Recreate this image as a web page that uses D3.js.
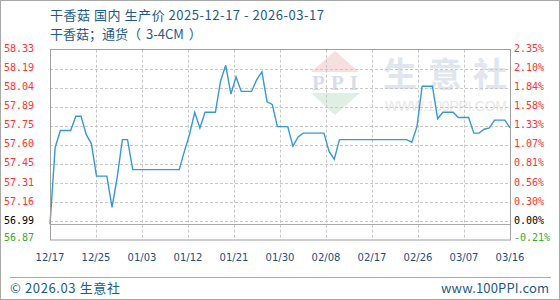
<!DOCTYPE html>
<html>
<head>
<meta charset="utf-8">
<script src="https://cdn.jsdelivr.net/npm/d3@7"></script>
<style>
  body { margin: 0; background: #fff; }
  svg { display: block; }
</style>
</head>
<body>
<svg width="560" height="300"></svg>
<script>
// daily price 2025-12-17 .. 2026-03-16
let prices = [
  56.99, 57.58, 57.71, 57.71, 57.71, 57.82, 57.82, 57.68, 57.61, 57.36,
  57.36, 57.36, 57.12, 57.35, 57.64, 57.64, 57.41, 57.41, 57.41, 57.41,
  57.41, 57.41, 57.41, 57.41, 57.41, 57.41, 57.55, 57.68, 57.85, 57.73,
  57.85, 57.85, 57.85, 58.09, 58.21, 57.99, 58.12, 58.01, 58.01, 58.01,
  58.10, 58.16, 57.93, 57.91, 57.74, 57.74, 57.74, 57.59, 57.66, 57.69,
  57.69, 57.69, 57.69, 57.69, 57.55, 57.49, 57.64, 57.64, 57.64, 57.64,
  57.64, 57.64, 57.64, 57.64, 57.64, 57.64, 57.64, 57.64, 57.64, 57.64,
  57.62, 57.74, 58.05, 58.05, 58.05, 57.80, 57.85, 57.85, 57.85, 57.81,
  57.81, 57.81, 57.69, 57.69, 57.72, 57.73, 57.79, 57.79, 57.79, 57.73
];
let xLabels = ["12/17", "12/25", "01/03", "01/12", "01/21", "01/30", "02/08", "02/17", "02/26", "03/07", "03/16"];
let priceLabels = ["56.87", "56.99", "57.16", "57.31", "57.45", "57.60", "57.75", "57.89", "58.04", "58.19", "58.33"];
let pctLabels = ["-0.21%", "0.00%", "0.30%", "0.56%", "0.81%", "1.07%", "1.33%", "1.58%", "1.84%", "2.10%", "2.35%"];
let basePrice = 56.99;
let title1 = "干香菇 国内 生产价 2025-12-17 - 2026-03-17";
let title2 = ["干香菇；通货（", "3-4CM", "）"];

let svg = d3.select("svg");
let plotL = 50, plotR = 510, plotT = 49.7, plotB = 240;
let textBlue = "#1d5a88";
let cjk = "'Noto Sans CJK SC', 'Noto Sans', sans-serif";

let x = d3.scaleLinear().domain([0, prices.length - 1]).range([plotL, plotR]);
let xl = d3.scalePoint().domain(xLabels).range([plotL, plotR]);
let y = d3.scaleLinear().domain([+priceLabels[0], +priceLabels[priceLabels.length - 1]]).range([plotB, plotT]);
let lo = y.domain()[0], hi = y.domain()[1];
let tickVals = priceLabels.map((d, i) => lo + i * (hi - lo) / (priceLabels.length - 1));

// outer frame
svg.append("rect").attr("x", 0.5).attr("y", 0.5).attr("width", 559).attr("height", 299)
  .attr("fill", "#fff").attr("stroke", "#a8a8a8");

// watermark
let wm = svg.append("g");
wm.append("polygon").attr("points", "335,51 311,72 359,72").attr("fill", "#f8dfdf");
wm.append("text").attr("x", 335).attr("y", 90).attr("text-anchor", "middle")
  .attr("font-family", "'Liberation Serif', serif").attr("font-weight", "bold").attr("font-size", 21)
  .attr("textLength", 46).attr("fill", "#d8dde9").text("PPI");
wm.append("polygon").attr("points", "311,93 360,93 335,115").attr("fill", "#dff0e3");
wm.selectAll(".wmc").data(["生", "意", "社"]).enter().append("text")
  .attr("x", (d, i) => 400 + i * 45).attr("y", 87).attr("text-anchor", "middle")
  .attr("font-family", cjk).attr("font-weight", "bold").attr("font-size", 34)
  .attr("fill", "#e1e5ee").text(d => d);
wm.append("text").attr("x", 385).attr("y", 111).attr("font-family", "'Liberation Sans', sans-serif")
  .attr("font-size", 14).attr("textLength", 122).attr("fill", "#e8e8e8").text("WWW.100PPI.COM");

// grid
svg.append("g").selectAll("line").data(tickVals.slice(1, -1)).enter().append("line")
  .attr("x1", plotL).attr("x2", plotR)
  .attr("y1", d => Math.round(y(d)) + 0.5).attr("y2", d => Math.round(y(d)) + 0.5)
  .attr("stroke", "#c8c8c8").attr("stroke-dasharray", "3,2");
svg.append("g").selectAll("line").data(xLabels.slice(1, -1)).enter().append("line")
  .attr("x1", d => Math.round(xl(d)) + 0.5).attr("x2", d => Math.round(xl(d)) + 0.5)
  .attr("y1", plotT).attr("y2", plotB)
  .attr("stroke", "#c8c8c8").attr("stroke-dasharray", "3,2");

// base line
svg.append("line").attr("x1", plotL).attr("x2", plotR)
  .attr("y1", Math.round(y(basePrice)) + 0.5).attr("y2", Math.round(y(basePrice)) + 0.5)
  .attr("stroke", "#aaa");

// price line
let line = d3.line().x((d, i) => x(i)).y(d => y(d));
svg.append("path").datum(prices).attr("d", line)
  .attr("fill", "none").attr("stroke", "#3598d8").attr("stroke-width", 1.4);

// plot frame
svg.append("rect").attr("x", plotL + 0.5).attr("y", 49.5).attr("width", plotR - plotL).attr("height", plotB - 49.5)
  .attr("fill", "none").attr("stroke", "#a0a0a0");

let labelColor = v => (+v > basePrice ? "#ff3333" : +v === basePrice ? "#000" : "#33aa33");

// left axis labels
svg.append("g").selectAll("text").data(priceLabels).enter().append("text")
  .attr("x", 4).attr("y", (d, i) => Math.min(y(tickVals[i]) - 1, 237.5)).attr("dy", "0.36em")
  .attr("font-family", "'DejaVu Sans Mono', monospace").attr("font-size", 10)
  .attr("fill", d => labelColor(d)).text(d => d);

// right axis labels
svg.append("g").selectAll("text").data(pctLabels).enter().append("text")
  .attr("x", 514).attr("y", (d, i) => Math.min(y(tickVals[i]) - 1, 237.5)).attr("dy", "0.36em")
  .attr("font-family", "'DejaVu Sans Mono', monospace").attr("font-size", 10)
  .attr("fill", (d, i) => labelColor(priceLabels[i])).text(d => d);

// x axis labels
svg.append("g").selectAll("text").data(xLabels).enter().append("text")
  .attr("x", d => xl(d)).attr("y", 260.5).attr("text-anchor", "middle")
  .attr("font-family", "'DejaVu Sans', sans-serif").attr("font-size", 10)
  .attr("fill", "#1b4f7d").text(d => d);

// titles
svg.append("text").attr("x", 50).attr("y", 19.5).attr("font-family", cjk).attr("font-size", 13)
  .attr("textLength", 274).attr("fill", textBlue).text(title1);
let t2 = svg.append("text").attr("x", 50).attr("y", 38.5).attr("font-family", cjk).attr("font-size", 13)
  .attr("fill", textBlue);
t2.selectAll("tspan").data(title2).enter().append("tspan")
  .attr("dx", (d, i) => (i === 0 ? 0 : 5)).text(d => d);

// footer
svg.append("line").attr("x1", 10).attr("x2", 551).attr("y1", 277.5).attr("y2", 277.5).attr("stroke", "#aaa");
svg.append("text").attr("x", 10).attr("y", 292.5).attr("font-family", cjk).attr("font-size", 13)
  .attr("textLength", 110).attr("fill", textBlue).text("© 2026.03 生意社");
svg.append("text").attr("x", 549).attr("y", 292.5).attr("text-anchor", "end").attr("font-family", cjk)
  .attr("font-size", 13).attr("textLength", 108).attr("fill", textBlue).text("www.100PPI.com");
</script>
</body>
</html>
